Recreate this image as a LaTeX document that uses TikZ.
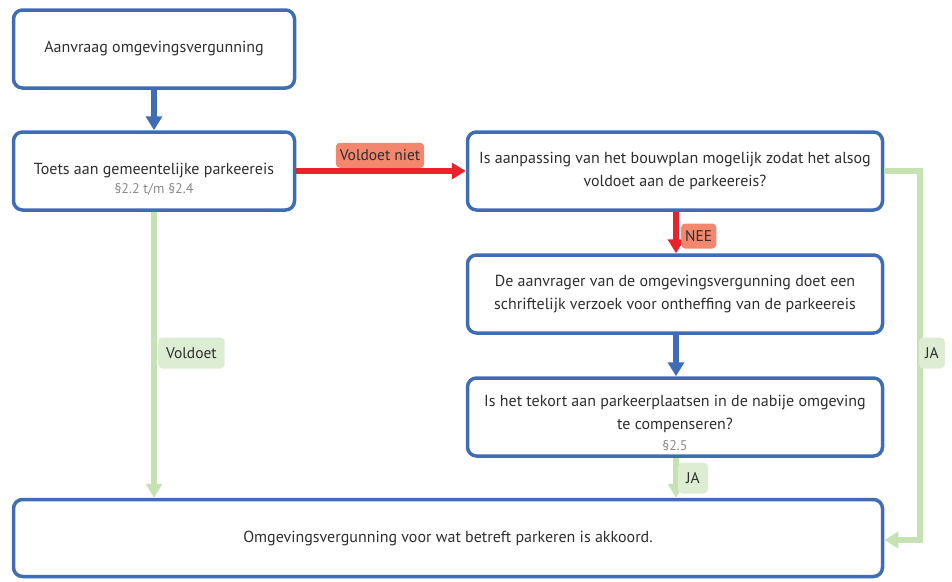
\documentclass[tikz,border=0pt]{standalone}
\usepackage{fontspec}
\setmainfont{PT Sans}
\usetikzlibrary{arrows.meta}
\definecolor{boxblue}{HTML}{3E6DB5}
\definecolor{nored}{HTML}{E8232B}
\definecolor{nolabel}{HTML}{F2876D}
\definecolor{yesgreen}{HTML}{C6E2B5}
\definecolor{yeslabel}{HTML}{DDEDD3}
\definecolor{textgray}{HTML}{2E2E2E}
\definecolor{refgray}{HTML}{8A8A8A}

\begin{document}
\begin{tikzpicture}[x=1pt,y=-1pt]
\tikzset{StepBox/.style = {draw=boxblue, line width=3.5pt, rounded corners=9pt, minimum height=78pt, inner sep=0pt, align=center, text=textgray, font=\fontsize{16}{23}\selectfont},
  StepText/.style = {text=textgray, align=center, inner sep=0pt, font=\fontsize{16}{23}\selectfont},
  BlueArrow/.style = {draw=boxblue, line width=5.5pt, -{Triangle[width=16pt,length=14pt]}},
  RedArrow/.style = {draw=nored, line width=5.5pt, -{Triangle[width=16pt,length=14pt]}},
  GreenArrow/.style = {draw=yesgreen, line width=5.5pt, -{Triangle[width=16pt,length=14pt]}},
  NoLabel/.style = {fill=nolabel, rounded corners=4pt, text=textgray, inner xsep=4pt, minimum height=25pt, font=\fontsize{15.5}{16}\selectfont},
  YesLabel/.style = {fill=yeslabel, rounded corners=4pt, text=textgray, inner xsep=8pt, minimum height=31pt, font=\fontsize{15.5}{16}\selectfont},
  RefText/.style = {text=refgray, inner sep=0pt, font=\fontsize{14}{16}\selectfont}}
\useasboundingbox (0,0) rectangle (952,581);
\node[StepBox, minimum width=281pt] (aanvraag) at (154,49) {Aanvraag omgevingsvergunning};
\node[StepBox, minimum width=281pt] (toets) at (154,171) {};
\node[StepText] (toetstext) at (154,171) {Toets aan gemeentelijke parkeereis};
\node[RefText] (toetsref) at (154,189) {§2.2 t/m §2.4};
\node[StepBox, minimum width=415pt] (aanpassing) at (675,171) {Is aanpassing van het bouwplan mogelijk zodat het alsog\\voldoet aan de parkeereis?};
\node[StepBox, minimum width=415pt] (verzoek) at (675,294) {De aanvrager van de omgevingsvergunning doet een\\schriftelijk verzoek voor ontheffing van de parkeereis};
\node[StepBox, minimum width=415pt] (tekort) at (675,417) {};
\node[StepText] (tekorttext) at (675,414) {Is het tekort aan parkeerplaatsen in de nabije omgeving\\te compenseren?};
\node[RefText] (tekortref) at (675,446) {§2.5};
\node[StepBox, minimum width=869pt, minimum height=77pt] (akkoord) at (448,538) {Omgevingsvergunning voor wat betreft parkeren is akkoord.};
\coordinate (rechtsboven) at (920,171);
\coordinate (rechtsonder) at (920,540);

\draw[BlueArrow] (aanvraag) -- (toets);
\draw[RedArrow] (toets) -- (aanpassing);
\node[NoLabel, anchor=south] (voldoetniet) at (380,168) {Voldoet niet};
\draw[RedArrow] (aanpassing.south -| 676,0) -- (verzoek.north -| 676,0);
\node[NoLabel, anchor=west] (nee) at (681,236) {NEE};
\draw[BlueArrow] (verzoek.south -| 676,0) -- (tekort.north -| 676,0);
\draw[GreenArrow] (tekort.south -| 676,0) -- (akkoord.north -| 676,0);
\node[YesLabel, anchor=west] (jaonder) at (678,478) {JA};
\draw[GreenArrow] (toets.south) -- (akkoord.north -| toets.south);
\node[YesLabel, anchor=west] (voldoet) at (158,353) {Voldoet};
\draw[GreenArrow] (aanpassing.east) -- (rechtsboven) -- (rechtsonder) -- (akkoord.east |- rechtsonder);
\node[YesLabel, anchor=west, inner xsep=6pt] (jarechts) at (919,353) {JA};
\end{tikzpicture}
\end{document}
